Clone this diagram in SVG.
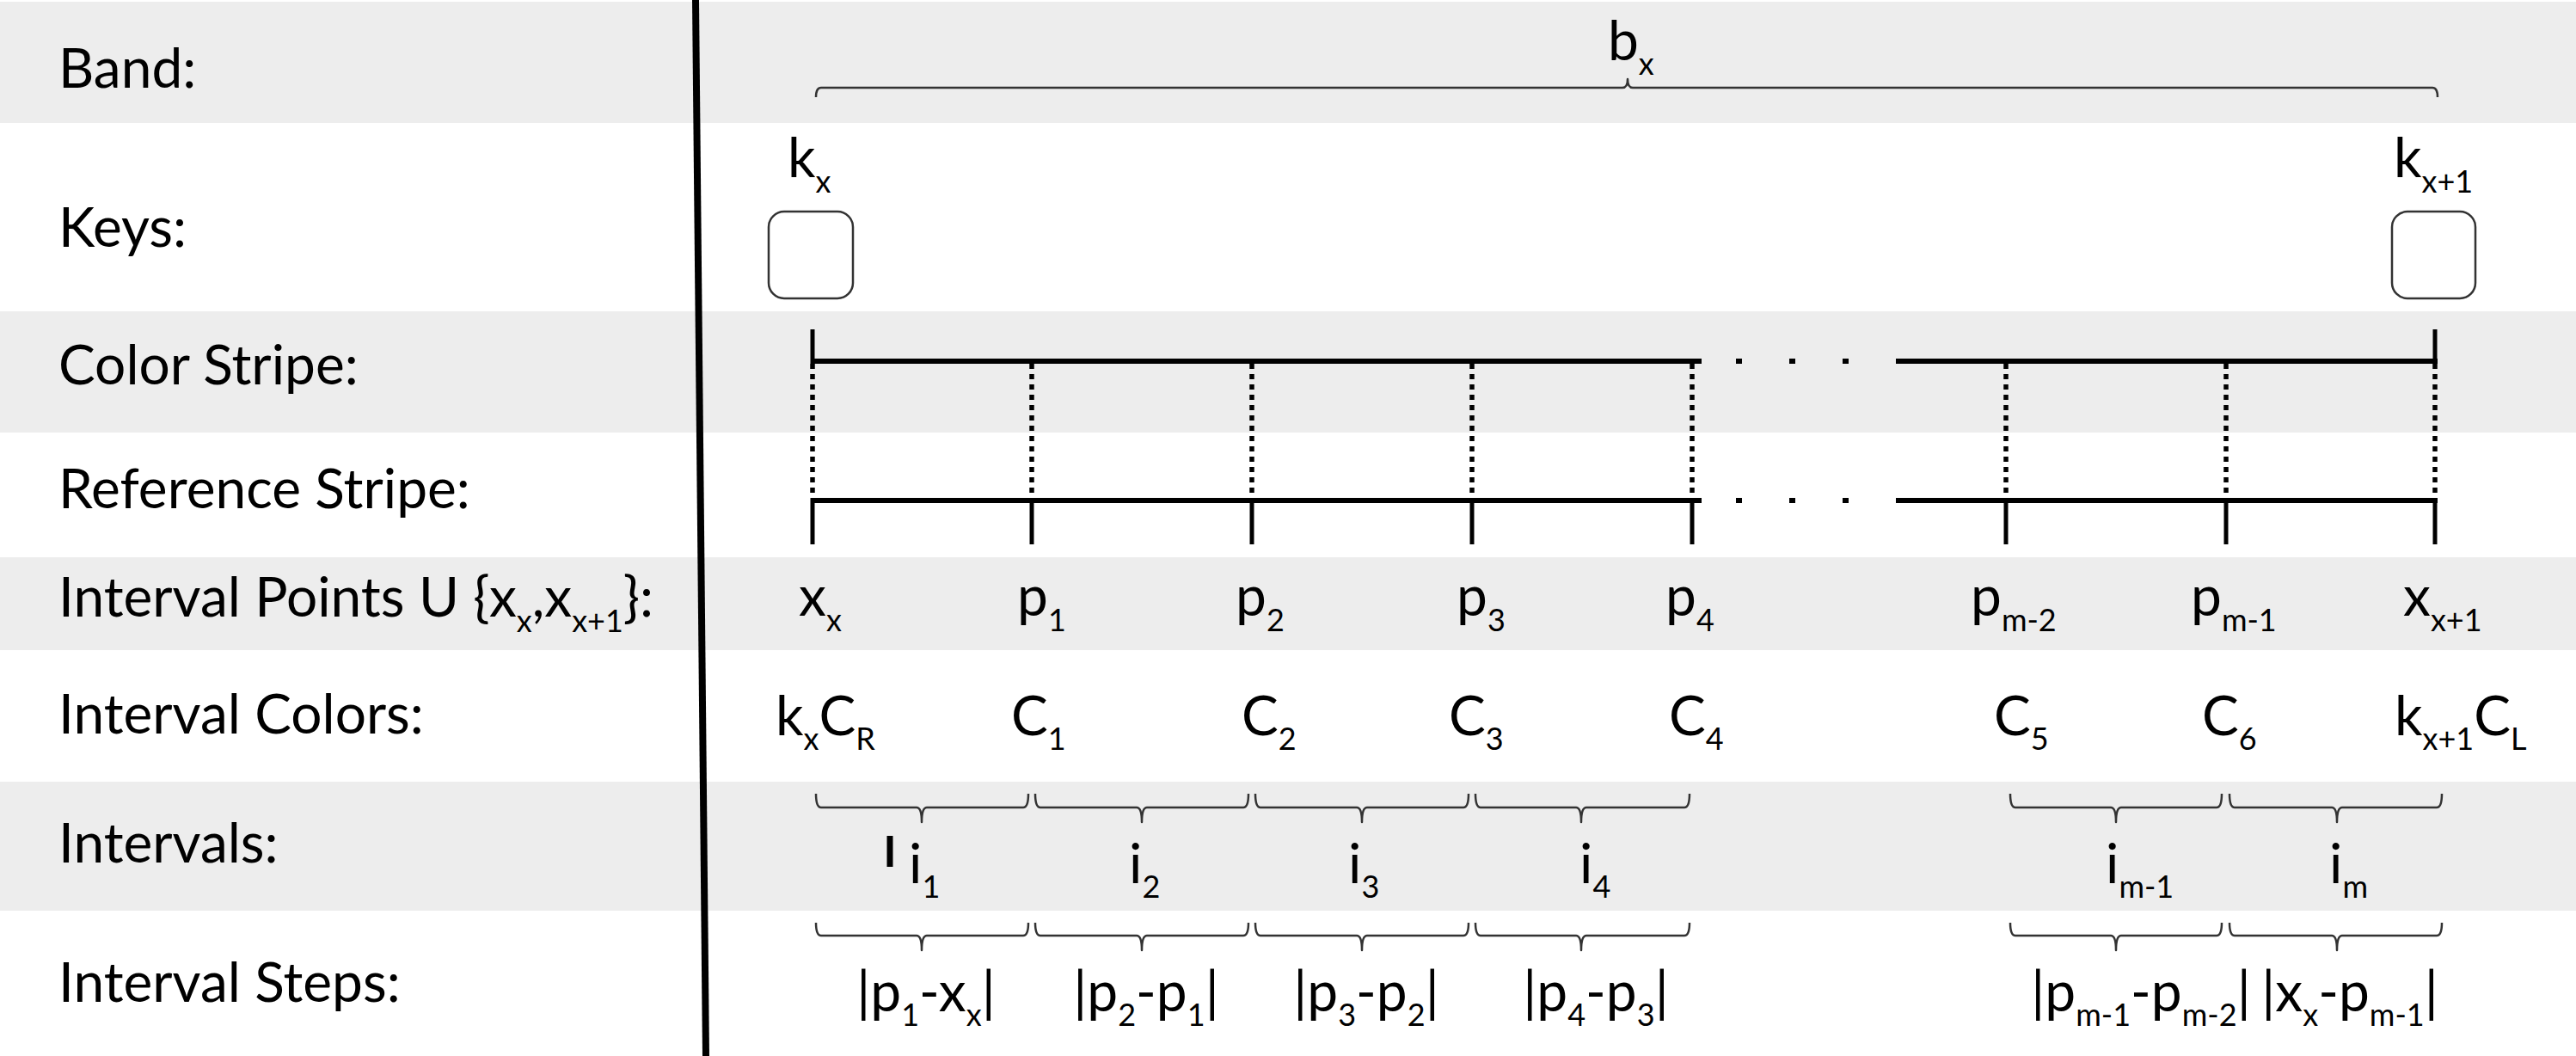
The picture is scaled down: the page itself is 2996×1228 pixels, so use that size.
<svg xmlns="http://www.w3.org/2000/svg" width="2996" height="1228" viewBox="0 0 2996 1228">
<style>
text{font-family:Lato,"Liberation Sans",sans-serif;font-size:64px;fill:#000}
.s{font-size:36px}
.band{fill:#ededed}
.stripe{stroke:#000;stroke-width:6;fill:none}
.tick{stroke:#000;stroke-width:5}
.dot{stroke:#000;stroke-width:5.5;stroke-dasharray:6 6}
.br{fill:none;stroke:#333;stroke-width:2.5;stroke-linejoin:round}
.key{fill:#fff;stroke:#333;stroke-width:2.5}
</style>
<rect width="2996" height="1228" fill="#fff"/>
<g id="bands">
<rect class="band" x="0" y="2" width="2996" height="141"/>
<rect class="band" x="0" y="362" width="2996" height="141"/>
<rect class="band" x="0" y="648" width="2996" height="108"/>
<rect class="band" x="0" y="909" width="2996" height="150"/>
</g>
<g id="row-labels">
<text x="68" y="102">Band:</text>
<text x="68" y="287">Keys:</text>
<text x="68" y="447">Color Stripe:</text>
<text x="68" y="591">Reference Stripe:</text>
<text x="68" y="717">Interval Points U {x<tspan class="s" dy="18">x</tspan><tspan dy="-18">,x</tspan><tspan class="s" dy="18">x+1</tspan><tspan dy="-18">}:</tspan></text>
<text x="68" y="853">Interval Colors:</text>
<text x="68" y="1003">Intervals:</text>
<text x="68" y="1165">Interval Steps:</text>
</g>
<line id="divider" x1="809" y1="0" x2="821" y2="1228" stroke="#000" stroke-width="8"/>
<g id="band-bracket">
<path class="br" d="M949,113 Q949,102 955,102 L1887,102 Q1893,102 1893,92 Q1893,102 1899,102 L2829,102 Q2835,102 2835,113"/>
<text x="1870" y="70">b<tspan class="s" dy="17">x</tspan></text>
</g>
<g id="key-kx">
<text x="916" y="206">k<tspan class="s" dy="18">x</tspan></text>
<rect class="key" x="894" y="246" width="98" height="101" rx="18"/>
</g>
<g id="key-kx1">
<text x="2784" y="206">k<tspan class="s" dy="18">x+1</tspan></text>
<rect class="key" x="2782" y="246" width="97" height="101" rx="18"/>
</g>
<g id="connectors">
<line class="stripe" x1="945" y1="420" x2="1979" y2="420"/>
<line class="stripe" x1="2205" y1="420" x2="2835" y2="420"/>
<line class="stripe" x1="945" y1="582" x2="1979" y2="582"/>
<line class="stripe" x1="2205" y1="582" x2="2835" y2="582"/>
<g fill="#000">
<rect x="2019" y="417" width="7" height="6"/><rect x="2081" y="417" width="7" height="6"/><rect x="2143" y="417" width="7" height="6"/>
<rect x="2019" y="579" width="7" height="6"/><rect x="2081" y="579" width="7" height="6"/><rect x="2143" y="579" width="7" height="6"/>
</g>
<line class="tick" x1="945" y1="383" x2="945" y2="423"/>
<line class="tick" x1="2832" y1="383" x2="2832" y2="423"/>
<g>
<line class="dot" x1="945" y1="423" x2="945" y2="579"/>
<line class="dot" x1="1200" y1="423" x2="1200" y2="579"/>
<line class="dot" x1="1456" y1="423" x2="1456" y2="579"/>
<line class="dot" x1="1712" y1="423" x2="1712" y2="579"/>
<line class="dot" x1="1968" y1="423" x2="1968" y2="579"/>
<line class="dot" x1="2333" y1="423" x2="2333" y2="579"/>
<line class="dot" x1="2589" y1="423" x2="2589" y2="579"/>
<line class="dot" x1="2832" y1="423" x2="2832" y2="579"/>
</g>
<g>
<line class="tick" x1="945" y1="579" x2="945" y2="633"/>
<line class="tick" x1="1200" y1="579" x2="1200" y2="633"/>
<line class="tick" x1="1456" y1="579" x2="1456" y2="633"/>
<line class="tick" x1="1712" y1="579" x2="1712" y2="633"/>
<line class="tick" x1="1968" y1="579" x2="1968" y2="633"/>
<line class="tick" x1="2333" y1="579" x2="2333" y2="633"/>
<line class="tick" x1="2589" y1="579" x2="2589" y2="633"/>
<line class="tick" x1="2832" y1="579" x2="2832" y2="633"/>
</g>
</g>
<g id="points">
<text x="929" y="716">x<tspan class="s" dy="18">x</tspan></text>
<text x="1183" y="716">p<tspan class="s" dy="18">1</tspan></text>
<text x="1437" y="716">p<tspan class="s" dy="18">2</tspan></text>
<text x="1694" y="716">p<tspan class="s" dy="18">3</tspan></text>
<text x="1937" y="716">p<tspan class="s" dy="18">4</tspan></text>
<text x="2292" y="716">p<tspan class="s" dy="18">m-2</tspan></text>
<text x="2548" y="716">p<tspan class="s" dy="18">m-1</tspan></text>
<text x="2795" y="716">x<tspan class="s" dy="18">x+1</tspan></text>
</g>
<g id="colors">
<text x="902" y="855">k<tspan class="s" dy="17">x</tspan><tspan dy="-17">C</tspan><tspan class="s" dy="17">R</tspan></text>
<text x="1176" y="855">C<tspan class="s" dy="17">1</tspan></text>
<text x="1444" y="855">C<tspan class="s" dy="17">2</tspan></text>
<text x="1685" y="855">C<tspan class="s" dy="17">3</tspan></text>
<text x="1941" y="855">C<tspan class="s" dy="17">4</tspan></text>
<text x="2319" y="855">C<tspan class="s" dy="17">5</tspan></text>
<text x="2561" y="855">C<tspan class="s" dy="17">6</tspan></text>
<text x="2785" y="855">k<tspan class="s" dy="17">x+1</tspan><tspan dy="-17">C</tspan><tspan class="s" dy="17">L</tspan></text>
</g>
<g id="intervals">
<path class="br" d="M949,923 Q949,939 955,939 L1066,939 Q1072,939 1072,956 Q1072,939 1078,939 L1190,939 Q1196,939 1196,923"/>
<path class="br" d="M1204,923 Q1204,939 1210,939 L1322,939 Q1328,939 1328,956 Q1328,939 1334,939 L1446,939 Q1452,939 1452,923"/>
<path class="br" d="M1460,923 Q1460,939 1466,939 L1578,939 Q1584,939 1584,956 Q1584,939 1590,939 L1702,939 Q1708,939 1708,923"/>
<path class="br" d="M1716,923 Q1716,939 1722,939 L1833,939 Q1839,939 1839,956 Q1839,939 1845,939 L1959,939 Q1965,939 1965,923"/>
<path class="br" d="M2338,923 Q2338,939 2344,939 L2455,939 Q2461,939 2461,956 Q2461,939 2467,939 L2578,939 Q2584,939 2584,923"/>
<path class="br" d="M2593,923 Q2593,939 2599,939 L2712,939 Q2718,939 2718,956 Q2718,939 2724,939 L2834,939 Q2840,939 2840,923"/>
<line x1="1035" y1="972" x2="1035" y2="1008" stroke="#000" stroke-width="7"/>
<text x="1057" y="1027">i<tspan class="s" dy="17">1</tspan></text>
<text x="1313" y="1027">i<tspan class="s" dy="17">2</tspan></text>
<text x="1568" y="1027">i<tspan class="s" dy="17">3</tspan></text>
<text x="1837" y="1027">i<tspan class="s" dy="17">4</tspan></text>
<text x="2449" y="1027">i<tspan class="s" dy="17">m-1</tspan></text>
<text x="2709" y="1027">i<tspan class="s" dy="17">m</tspan></text>
</g>
<g id="steps">
<path class="br" d="M949,1073 Q949,1088 955,1088 L1066,1088 Q1072,1088 1072,1105 Q1072,1088 1078,1088 L1190,1088 Q1196,1088 1196,1073"/>
<path class="br" d="M1204,1073 Q1204,1088 1210,1088 L1322,1088 Q1328,1088 1328,1105 Q1328,1088 1334,1088 L1446,1088 Q1452,1088 1452,1073"/>
<path class="br" d="M1460,1073 Q1460,1088 1466,1088 L1578,1088 Q1584,1088 1584,1105 Q1584,1088 1590,1088 L1702,1088 Q1708,1088 1708,1073"/>
<path class="br" d="M1716,1073 Q1716,1088 1722,1088 L1833,1088 Q1839,1088 1839,1105 Q1839,1088 1845,1088 L1959,1088 Q1965,1088 1965,1073"/>
<path class="br" d="M2338,1073 Q2338,1088 2344,1088 L2455,1088 Q2461,1088 2461,1105 Q2461,1088 2467,1088 L2578,1088 Q2584,1088 2584,1073"/>
<path class="br" d="M2593,1073 Q2593,1088 2599,1088 L2712,1088 Q2718,1088 2718,1105 Q2718,1088 2724,1088 L2834,1088 Q2840,1088 2840,1073"/>
<text x="1077" y="1176" text-anchor="middle">|p<tspan class="s" dy="17">1</tspan><tspan dy="-17">-x</tspan><tspan class="s" dy="17">x</tspan><tspan dy="-17">|</tspan></text>
<text x="1333" y="1176" text-anchor="middle">|p<tspan class="s" dy="17">2</tspan><tspan dy="-17">-p</tspan><tspan class="s" dy="17">1</tspan><tspan dy="-17">|</tspan></text>
<text x="1589" y="1176" text-anchor="middle">|p<tspan class="s" dy="17">3</tspan><tspan dy="-17">-p</tspan><tspan class="s" dy="17">2</tspan><tspan dy="-17">|</tspan></text>
<text x="1856" y="1176" text-anchor="middle">|p<tspan class="s" dy="17">4</tspan><tspan dy="-17">-p</tspan><tspan class="s" dy="17">3</tspan><tspan dy="-17">|</tspan></text>
<text x="2490" y="1176" text-anchor="middle">|p<tspan class="s" dy="17">m-1</tspan><tspan dy="-17">-p</tspan><tspan class="s" dy="17">m-2</tspan><tspan dy="-17">|</tspan></text>
<text x="2733" y="1176" text-anchor="middle">|x<tspan class="s" dy="17">x</tspan><tspan dy="-17">-p</tspan><tspan class="s" dy="17">m-1</tspan><tspan dy="-17">|</tspan></text>
</g>
</svg>
